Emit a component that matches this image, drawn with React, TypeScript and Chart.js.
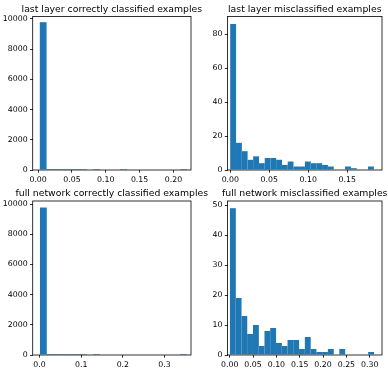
import React, { useEffect, useRef } from "react";
import { Chart, registerables } from "chart.js";

Chart.register(...registerables);

// ---------- data ----------
const panelTitles = [
  "last layer correctly classified examples",
  "last layer misclassified examples",
  "full network correctly classified examples",
  "full network misclassified examples",
];

// last layer, correctly classified
const llCorrectCounts = [9780, 20, 8, 4, 2, 1, 1, 0, 1, 0, 0, 0, 1, 0, 0, 0, 0, 0, 0, 0, 0, 1];
const llCorrectBinStart = 0.0025;
const llCorrectBinWidth = 0.0099;
const llCorrectXRange = [-0.008, 0.226];
const llCorrectYMax = 10160;
const llCorrectXTicks = [0, 0.05, 0.1, 0.15, 0.2];
const llCorrectXLabels = ["0.00", "0.05", "0.10", "0.15", "0.20"];
const llCorrectYTicks = [0, 2000, 4000, 6000, 8000, 10000];

// last layer, misclassified
const llWrongCounts = [86, 16, 11, 6, 8, 4, 7, 7, 6, 3, 5, 2, 2, 5, 4, 4, 3, 2, 0, 0, 2, 1, 0, 0, 2];
const llWrongBinStart = 0.0;
const llWrongBinWidth = 0.00736;
const llWrongXRange = [-0.0036, 0.1945];
const llWrongYMax = 90.5;
const llWrongXTicks = [0, 0.05, 0.1, 0.15];
const llWrongXLabels = ["0.00", "0.05", "0.10", "0.15"];
const llWrongYTicks = [0, 20, 40, 60, 80];

// full network, correctly classified
const fnCorrectCounts = [9760, 24, 9, 4, 2, 1, 1, 0, 1, 0, 0, 0, 0, 0, 0, 0, 0, 0, 0, 0, 0, 1];
const fnCorrectBinStart = 0.0012;
const fnCorrectBinWidth = 0.016;
const fnCorrectXRange = [-0.0163, 0.3636];
const fnCorrectYMax = 10200;
const fnCorrectXTicks = [0, 0.1, 0.2, 0.3];
const fnCorrectXLabels = ["0.0", "0.1", "0.2", "0.3"];
const fnCorrectYTicks = [0, 2000, 4000, 6000, 8000, 10000];

// full network, misclassified
const fnWrongCounts = [49, 19, 13, 7, 10, 3, 8, 9, 4, 3, 5, 5, 2, 6, 2, 1, 1, 2, 0, 2, 0, 0, 0, 0, 1];
const fnWrongBinStart = 0.0006;
const fnWrongBinWidth = 0.01234;
const fnWrongXRange = [-0.0047, 0.3263];
const fnWrongYMax = 51.4;
const fnWrongXTicks = [0, 0.05, 0.1, 0.15, 0.2, 0.25, 0.3];
const fnWrongXLabels = ["0.00", "0.05", "0.10", "0.15", "0.20", "0.25", "0.30"];
const fnWrongYTicks = [0, 10, 20, 30, 40, 50];

const panels = [
  { title: panelTitles[0], counts: llCorrectCounts, start: llCorrectBinStart, width: llCorrectBinWidth, xRange: llCorrectXRange, yMax: llCorrectYMax, xTicks: llCorrectXTicks, xLabels: llCorrectXLabels, yTicks: llCorrectYTicks },
  { title: panelTitles[1], counts: llWrongCounts, start: llWrongBinStart, width: llWrongBinWidth, xRange: llWrongXRange, yMax: llWrongYMax, xTicks: llWrongXTicks, xLabels: llWrongXLabels, yTicks: llWrongYTicks },
  { title: panelTitles[2], counts: fnCorrectCounts, start: fnCorrectBinStart, width: fnCorrectBinWidth, xRange: fnCorrectXRange, yMax: fnCorrectYMax, xTicks: fnCorrectXTicks, xLabels: fnCorrectXLabels, yTicks: fnCorrectYTicks },
  { title: panelTitles[3], counts: fnWrongCounts, start: fnWrongBinStart, width: fnWrongBinWidth, xRange: fnWrongXRange, yMax: fnWrongYMax, xTicks: fnWrongXTicks, xLabels: fnWrongXLabels, yTicks: fnWrongYTicks },
];

// ---------- layout ----------
const FIG_W = 388;
const FIG_H = 371;
const Y_AXIS_W = 40;
const X_AXIS_H = 20;
const areas = [
  { left: 32.7, right: 191, top: 16.5, bottom: 170 },
  { left: 227.5, right: 382, top: 16.5, bottom: 170 },
  { left: 32.7, right: 191, top: 201, bottom: 355 },
  { left: 227.5, right: 382, top: 201, bottom: 355 },
];
const FONT = '"DejaVu Sans", sans-serif';
const BAR_COLOR = "#1f77b4";

function HistPanel({ idx }: { idx: number }) {
  const ref = useRef<HTMLCanvasElement | null>(null);
  useEffect(() => {
    const p = panels[idx];
    const a = areas[idx];
    const data = p.counts.map((c, i) => ({ x: p.start + (i + 0.5) * p.width, y: c }));
    const framePlugin = {
      id: "frame" + idx,
      afterDraw(chart: any) {
        const { ctx, chartArea } = chart;
        ctx.save();
        ctx.strokeStyle = "#000";
        ctx.lineWidth = 0.8;
        ctx.strokeRect(chartArea.left, chartArea.top, chartArea.right - chartArea.left, chartArea.bottom - chartArea.top);
        ctx.fillStyle = "#000";
        ctx.font = "9.3px " + FONT;
        ctx.textAlign = "center";
        ctx.textBaseline = "alphabetic";
        ctx.fillText(p.title, (chartArea.left + chartArea.right) / 2, chartArea.top - 4.6);
        ctx.restore();
      },
    };
    const chart = new Chart(ref.current as HTMLCanvasElement, {
      type: "bar",
      data: {
        datasets: [
          {
            data: data as any,
            backgroundColor: BAR_COLOR,
            borderColor: "rgba(140,185,222,0.6)",
            borderWidth: 0.3,
            barPercentage: 1,
            categoryPercentage: 1,
          },
        ],
      },
      options: {
        responsive: false,
        animation: false,
        events: [],
        layout: {
          padding: {
            left: a.left - Y_AXIS_W,
            top: a.top,
            right: FIG_W - a.right,
            bottom: FIG_H - a.bottom - X_AXIS_H,
          },
        },
        plugins: { legend: { display: false }, tooltip: { enabled: false }, title: { display: false } },
        scales: {
          x: {
            type: "linear",
            min: p.xRange[0],
            max: p.xRange[1],
            offset: false,
            afterBuildTicks: (s: any) => {
              s.ticks = p.xTicks.map((v) => ({ value: v }));
            },
            afterFit: (s: any) => {
              s.height = X_AXIS_H;
            },
            grid: { display: true, offset: false, drawOnChartArea: false, drawTicks: true, tickLength: 2.7, tickWidth: 0.8, tickColor: "#000" },
            border: { display: false },
            ticks: {
              autoSkip: false,
              maxRotation: 0,
              padding: 2.2,
              color: "#000",
              font: { family: FONT, size: 7.8 },
              callback: (v: any) => {
                const k = p.xTicks.findIndex((t) => Math.abs(t - v) < 1e-9);
                return k >= 0 ? p.xLabels[k] : "";
              },
            },
          },
          y: {
            type: "linear",
            min: 0,
            max: p.yMax,
            afterBuildTicks: (s: any) => {
              s.ticks = p.yTicks.map((v) => ({ value: v }));
            },
            afterFit: (s: any) => {
              s.width = Y_AXIS_W;
            },
            grid: { display: true, drawOnChartArea: false, drawTicks: true, tickLength: 2.7, tickWidth: 0.8, tickColor: "#000" },
            border: { display: false },
            ticks: {
              autoSkip: false,
              padding: 2.4,
              color: "#000",
              font: { family: FONT, size: 7.8 },
              callback: (v: any) => String(v),
            },
          },
        },
      },
      plugins: [framePlugin],
    });
    return () => chart.destroy();
  }, [idx]);
  return (
    <canvas
      ref={ref}
      width={FIG_W}
      height={FIG_H}
      style={{ position: "absolute", left: 0, top: 0, width: FIG_W, height: FIG_H }}
    />
  );
}

export default function App() {
  return (
    <div style={{ position: "fixed", left: 0, top: 0, width: FIG_W, height: FIG_H, background: "#fff" }}>
      {panels.map((_, i) => (
        <HistPanel key={i} idx={i} />
      ))}
    </div>
  );
}
